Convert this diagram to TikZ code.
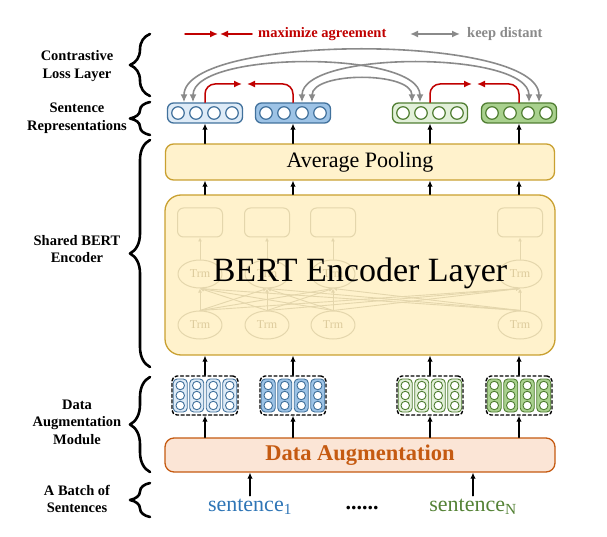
\documentclass[tikz,border=0pt]{standalone}
\usepackage{fontspec}
\setmainfont{Liberation Serif}
\usepackage{tikz}
\usetikzlibrary{arrows.meta,decorations.pathreplacing,shapes.geometric}
\definecolor{csBlueLine}{HTML}{41719C}
\definecolor{csBlueLight}{HTML}{DEEBF7}
\definecolor{csBlueMid}{HTML}{9DC3E6}
\definecolor{csGreenLine}{HTML}{507E32}
\definecolor{csGreenLight}{HTML}{E2F0D9}
\definecolor{csGreenMid}{HTML}{A9D18E}
\definecolor{csRed}{HTML}{C00000}
\definecolor{csGray}{HTML}{8A8A8A}
\definecolor{csGold}{HTML}{C9A030}
\definecolor{csGoldFill}{HTML}{FFF2CC}
\definecolor{csFaint}{HTML}{E4D6AC}
\definecolor{csFaintText}{HTML}{DDCB9C}
\definecolor{csOrange}{HTML}{C55A11}
\definecolor{csOrangeFill}{HTML}{FBE5D6}
\definecolor{csSentBlue}{HTML}{2E75B6}
\definecolor{csSentGreen}{HTML}{548235}
\tikzset{
  cs diagram/.style={x=1pt, y=-1pt, line cap=round, line join=round},
  cs label/.style={font=\bfseries\fontsize{14.5}{17.5}\selectfont, align=center},
  cs brace/.style={draw, line width=2.6pt, decorate,
    decoration={brace, amplitude=20pt}},
  cs arrow/.style={-{Latex[length=6pt,width=5.5pt]}, line width=1.4pt},
  cs layer/.style={draw=csGold, fill=csGoldFill, line width=1.3pt, inner sep=0pt},
  cs rep/.style={draw, line width=1.3pt, rounded corners=6pt,
    minimum width=75pt, minimum height=20pt, inner sep=0pt},
  cs dot/.style={circle, draw, fill=white, line width=1.2pt,
    minimum size=12.5pt, inner sep=0pt},
  cs group/.style={draw, dash pattern=on 3pt off 2.5pt, line width=1.4pt,
    rounded corners=5pt, minimum width=66pt, minimum height=39pt, inner sep=0pt},
  cs column/.style={draw, line width=0.9pt, rounded corners=4pt,
    minimum width=14pt, minimum height=33pt, inner sep=0pt},
  cs pull/.style={-{Latex[length=8pt,width=7pt]}, draw=csRed, line width=1.5pt},
  cs push/.style={{Latex[length=8pt,width=7pt]}-{Latex[length=8pt,width=7pt]},
    draw=csGray, line width=1.6pt},
  cs faint box/.style={draw=csFaint, fill=csGoldFill, line width=1pt,
    rounded corners=6pt, minimum width=45pt, minimum height=29pt, inner sep=0pt},
  cs trm/.style={ellipse, draw=csFaint, fill=csGoldFill, line width=1pt,
    minimum width=44pt, minimum height=28pt, inner sep=0pt,
    text=csFaintText, font=\fontsize{12}{14}\selectfont},
  cs faint arrow/.style={-{Latex[length=4pt,width=4pt]}, draw=csFaint, line width=0.9pt}
}
\begin{document}
\begin{tikzpicture}[cs diagram]
\useasboundingbox (0,0) rectangle (607,537);
% legend
\coordinate (lgA) at (185,34);
\coordinate (lgAtip) at (218,34);
\coordinate (lgB) at (252,34);
\coordinate (lgBtip) at (220,34);
\coordinate (lgC) at (410,34);
\coordinate (lgD) at (460,34);
\draw[cs pull] (lgA) -- (lgAtip);
\draw[cs pull] (lgB) -- (lgBtip);
\node[anchor=west, inner sep=0pt, text=csRed, font=\bfseries\fontsize{14.5}{17}\selectfont] (lgPull) at (258,34) {maximize agreement};
\draw[cs push] (lgC) -- (lgD);
\node[anchor=west, inner sep=0pt, text=csGray, font=\bfseries\fontsize{14.5}{17}\selectfont] (lgPush) at (467,34) {keep distant};
% left labels and braces
\node[cs label] (lblLoss) at (77,66) {Contrastive\\Loss Layer};
\node[cs label] (lblRep) at (77,118) {Sentence\\Representations};
\node[cs label] (lblBert) at (77,249) {Shared BERT\\Encoder};
\node[cs label] (lblAug) at (77,422) {Data\\Augmentation\\Module};
\node[cs label] (lblBatch) at (77,499) {A Batch of\\Sentences};
\draw[cs brace] (150,96) -- (150,34);
\draw[cs brace] (150,135) -- (150,102);
\draw[cs brace] (150,367) -- (150,140);
\draw[cs brace] (150,472) -- (150,377);
\draw[cs brace] (150,517) -- (150,483);
% layers
\node[cs layer, rounded corners=8pt, minimum width=389pt, minimum height=36pt,
  font=\fontsize{22}{25}\selectfont] (pool) at (360,162) {Average Pooling};
\node[cs layer, rounded corners=16pt, minimum width=390pt, minimum height=160pt] (bert) at (360,275) {};
\foreach \i/\x in {1/200,2/267,3/333,4/520}{
  \node[cs faint box] (tb\i) at (\x,222.5) {};
  \node[cs trm] (tm\i) at (\x,274) {Trm};
  \node[cs trm] (tl\i) at (\x,325) {Trm};
  \draw[cs faint arrow] (tm\i) -- (tb\i);
}
\foreach \i in {1,...,4}
  \foreach \j in {1,...,4} \draw[cs faint arrow] (tl\i.north) -- (tm\j.south);
\node[font=\fontsize{34}{38}\selectfont] (bertLabel) at (360,273) {BERT Encoder Layer};
\node[draw=csOrange, fill=csOrangeFill, line width=1.3pt, rounded corners=9pt,
  minimum width=390pt, minimum height=34pt, inner sep=0pt, text=csOrange,
  font=\bfseries\fontsize{22.5}{25}\selectfont] (aug) at (360,455) {Data Augmentation};
% representations and augmented views
\foreach \i/\x/\fc/\lc in {1/205/csBlueLight/csBlueLine, 2/293/csBlueMid/csBlueLine,
    3/430/csGreenLight/csGreenLine, 4/519/csGreenMid/csGreenLine}{
  \node[cs rep, draw=\lc, fill=\fc] (rep\i) at (\x,113) {};
  \foreach \k in {-27,-9,9,27} \node[cs dot, draw=\lc] at ([xshift=\k pt]rep\i.center) {};
  \node[cs group] (grp\i) at (\x,395.5) {};
  \foreach \k in {-24.75,-8.25,8.25,24.75}{
    \node[cs column, draw=\lc, fill=\fc] at ([xshift=\k pt]grp\i.center) {};
    \foreach \r in {-10,0,10}
      \node[cs dot, minimum size=8.5pt, line width=0.9pt, draw=\lc] at ([xshift=\k pt,yshift=\r pt]grp\i.center) {};
  }
  \draw[cs arrow] (pool.north -| rep\i) -- (rep\i.south);
  \draw[cs arrow] (bert.north -| rep\i) -- (pool.south -| rep\i);
  \draw[cs arrow] (grp\i.north) -- (bert.south -| grp\i);
  \draw[cs arrow] (aug.north -| grp\i) -- (grp\i.south);
}
% contrastive objective
\coordinate (agr1) at (242,84);
\coordinate (agr2) at (247,84);
\coordinate (agr3) at (472,84);
\coordinate (agr4) at (477,84);
\draw[cs pull, rounded corners=10pt] (rep1.north) |- (agr1);
\draw[cs pull, rounded corners=10pt] (rep2.north) |- (agr2);
\draw[cs pull, rounded corners=10pt] (rep3.north) |- (agr3);
\draw[cs pull, rounded corners=10pt] (rep4.north) |- (agr4);
\draw[cs push] ([xshift=-21pt]rep1.north) .. controls +(0,-69) and +(0,-69) .. ([xshift=20pt]rep4.north);
\draw[cs push] ([xshift=-12pt]rep1.north) .. controls +(0,-52) and +(0,-52) .. ([xshift=-10pt]rep3.north);
\draw[cs push] ([xshift=9pt]rep2.north) .. controls +(0,-52) and +(0,-52) .. ([xshift=10pt]rep4.north);
\draw[cs push] ([xshift=19pt]rep2.north) .. controls +(0,-31) and +(0,-31) .. ([xshift=-18pt]rep3.north);
% input batch
\node[text=csSentBlue, font=\fontsize{22}{26}\selectfont] (sent1) at (250,507) {sentence\textsubscript{1}};
\node[font=\bfseries\fontsize{22}{26}\selectfont] (dots) at (362,508) {......};
\node[text=csSentGreen, font=\fontsize{22}{26}\selectfont] (sentN) at (473,507) {sentence\textsubscript{N}};
\draw[cs arrow] (sent1.north) -- (sent1.north |- aug.south);
\draw[cs arrow] (sentN.north) -- (sentN.north |- aug.south);
\end{tikzpicture}
\end{document}
